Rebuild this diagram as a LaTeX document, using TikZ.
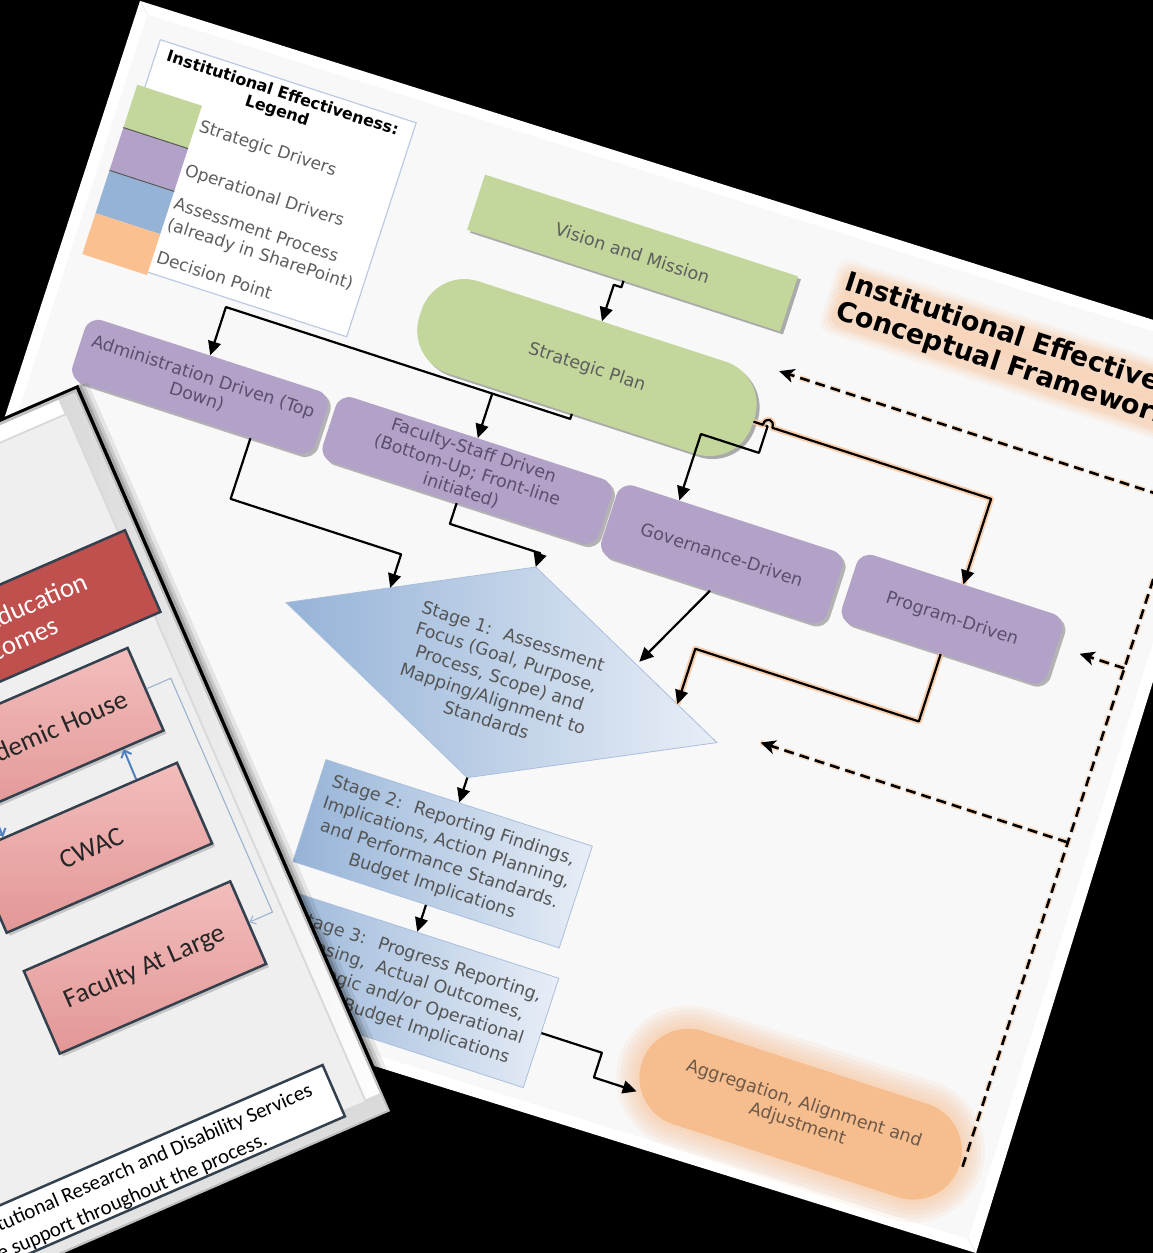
\documentclass[tikz,border=0pt]{standalone}
\usepackage{fontspec}
\setmainfont{DejaVu Sans}
\newfontfamily\carl{Carlito}
\usetikzlibrary{arrows.meta,shadows,calc}
\definecolor{purp}{HTML}{B3A2C7}
\definecolor{ptext}{HTML}{5C4E70}
\definecolor{grn}{HTML}{C3D69B}
\definecolor{gtext}{HTML}{5E5E5E}
\definecolor{sbone}{HTML}{95B3D7}
\definecolor{sbtwo}{HTML}{E8EEF7}
\definecolor{sbd}{HTML}{A9BFDD}
\definecolor{stext}{HTML}{555555}
\definecolor{org}{HTML}{F6BE8F}
\definecolor{otext}{HTML}{6E5848}
\definecolor{glow}{HTML}{F7C39A}
\definecolor{legb}{HTML}{BCCBE2}
\definecolor{lorange}{HTML}{FAC090}
\definecolor{lblue}{HTML}{95B3D7}
\definecolor{redbox}{HTML}{C0504D}
\definecolor{pinkt}{HTML}{F2BDBC}
\definecolor{pinkb}{HTML}{E29796}
\definecolor{slate}{HTML}{33414F}
\definecolor{arrblue}{HTML}{4F81BD}
\definecolor{brk}{HTML}{9DB3CF}
\definecolor{slidebg}{HTML}{F8F8F8}
\definecolor{lsbg}{HTML}{EFEFEF}
\newcommand{\fsz}[2]{\fontsize{#1}{#2}\selectfont}
\begin{document}
\begin{tikzpicture}[x=1pt,y=-1pt,
  pnode/.style={rounded corners=14pt, fill=purp, text=ptext, align=center, inner sep=0pt,
     font=\fsz{17.5}{21}, drop shadow={shadow xshift=3pt, shadow yshift=-3pt, opacity=.4, fill=black!70}},
  gnode/.style={fill=grn, text=gtext, align=center, inner sep=0pt, font=\fsz{17.5}{21},
     drop shadow={shadow xshift=3pt, shadow yshift=-3pt, opacity=.45, fill=black!70}},
  snode/.style={left color=sbone, right color=sbtwo, draw=sbd, line width=0.8pt, text=stext,
     align=center, inner sep=0pt, font=\fsz{17.5}{23}},
  legt/.style={anchor=west, text=gtext, font=\fsz{17}{20}, inner sep=0pt},
  ttl/.style={anchor=west, align=left, font=\bfseries\fsz{27}{30}, inner sep=0pt},
  conn/.style={line width=2.2pt, line join=round, -{Triangle[length=14pt,width=13pt]}},
  glowl/.style={line width=6pt, draw=glow, opacity=.8, line join=round},
  dconn/.style={line width=2.6pt, dash pattern=on 10pt off 6pt, -{Stealth[length=15pt,width=14pt,inset=4pt]}},
  dglow/.style={line width=5.5pt, draw=glow, opacity=.6, dash pattern=on 10pt off 6pt},
  rnode/.style={fill=redbox, draw=slate, line width=2.5pt, text=white, font=\carl\fsz{27}{29},
     align=center, inner sep=0pt},
  knode/.style={top color=pinkt, bottom color=pinkb, draw=slate, line width=2.5pt, text=black!85,
     font=\carl\fsz{27}{30}, align=center, inner sep=0pt,
     drop shadow={shadow xshift=3pt, shadow yshift=-3pt, opacity=.3, fill=black!60}},
  brkl/.style={draw=brk, line width=1.1pt, -{Straight Barb[length=5pt,width=9pt]}},
  barr/.style={draw=arrblue, line width=2pt, -{Straight Barb[length=6pt,width=11pt]}}
]
\useasboundingbox (0,0) rectangle (1153,1253);
\fill[black] (0,0) rectangle (1153,1253);

% ================= main slide =================
\begin{scope}[shift={(501,674)},rotate=-18,transform shape]
\fill[white] (-551.3,-528.6) -- (617.6,-539.3) -- (630.7,403.9) -- (-551.5,419) -- cycle;
\fill[slidebg] (-540,-518) -- (606,-528) -- (619,393) -- (-540,408) -- cycle;
\draw[gray!18, line width=0.6pt] (-551.3,-528.6) -- (-540,-518) (630.7,403.9) -- (619,393);

% legend
\draw[legb, line width=1.2pt, fill=white] (-520,-498) rectangle (-251,-273);
\fill[grn] (-528,-448) rectangle (-460,-403);
\fill[purp] (-528,-403) rectangle (-460,-358);
\fill[lblue] (-528,-358) rectangle (-460,-313);
\fill[lorange] (-528,-313) rectangle (-460,-270);
\draw[black!65, line width=1pt] (-528,-403) -- (-460,-403) (-528,-358) -- (-460,-358);
\node[font=\bfseries\fsz{16}{18}, align=center, inner sep=0pt] (legtitle) at (-387,-475) {Institutional Effectiveness:\\Legend};
\node[legt] (lg1) at (-456,-427) {Strategic Drivers};
\node[legt] (lg2) at (-456,-381) {Operational Drivers};
\node[legt] (lg3) at (-456,-347) {Assessment Process};
\node[legt] (lg4) at (-456,-324) {(already in SharePoint)};
\node[legt] (lg5) at (-456,-291) {Decision Point};

% title with soft glow
\foreach \g/\o in {9/.10,6/.14,3/.2,0/.25} {
  \fill[glow, opacity=\o, rounded corners=12pt] ({203-\g},{-493-\g}) rectangle ({612+\g},{-466+\g});
  \fill[glow, opacity=\o, rounded corners=12pt] ({203-\g},{-463-\g}) rectangle ({559+\g},{-434+\g});
}
\node[ttl] (title) at (207,-464) {Institutional Effectiveness\\Conceptual Framework};

% green
\node[gnode, minimum width=329pt, minimum height=58pt] (vis) at (-5,-441) {Vision and Mission};
\node[gnode, rounded corners=45pt, minimum width=350pt, minimum height=97pt] (sp) at (-13,-318) {Strategic Plan};

% purple
\node[pnode, minimum width=255pt, minimum height=66pt] (adm) at (-375,-180) {Administration Driven (Top\\Down)};
\node[pnode, minimum width=290pt, minimum height=68pt] (fac) at (-95,-183) {Faculty-Staff Driven\\(Bottom-Up; Front-line\\initiated)};
\node[pnode, minimum width=237pt, minimum height=76pt] (gov) at (173,-182) {Governance-Driven};
\node[pnode, minimum width=216pt, minimum height=73pt] (prog) at (412,-191.5) {Program-Driven};

% stage 1 diamond
\coordinate (s1t) at (0,-112.5);
\coordinate (s1r) at (226.5,-1.5);
\coordinate (s1b) at (0,109);
\coordinate (s1l) at (-226.5,-1.5);
\shadedraw[left color=sbone, right color=sbtwo, draw=sbd, line width=0.8pt] (s1l) -- (s1t) -- (s1r) -- (s1b) -- cycle;
\node[text=stext, align=center, font=\fsz{17.5}{22}, inner sep=0pt] (s1) at (0,4) {Stage 1:~ Assessment\\Focus (Goal, Purpose,\\Process, Scope) and\\Mapping/Alignment to\\Standards};

% stage 2, 3
\node[snode, minimum width=280pt, minimum height=107pt] (s2) at (0,189) {Stage 2:~ Reporting Findings,\\Implications, Action Planning,\\and Performance Standards.\\Budget Implications};
\node[snode, minimum width=280pt, minimum height=115pt] (s3) at (9,329) {Stage 3:~ Progress Reporting,\\Closing,~ Actual Outcomes,\\Strategic and/or Operational\\Goals, Budget Implications};

% aggregation (blurred)
\foreach \w in {46,38,30,22,14,7}
  \draw[org, opacity=.12, line width=\w pt, rounded corners=49pt] (254,277) rectangle (588,375);
\fill[org, rounded corners=49pt] (254,277) rectangle (588,375);
\node[minimum width=340pt, minimum height=104pt, inner sep=0pt, align=center, text=otext, font=\fsz{17.5}{21}] (agg) at (421,326) {Aggregation, Alignment and\\Adjustment};
\coordinate (aggin) at (258,355);

% connectors
\draw[conn] (vis.south) -- (-5,-405) -- (-13,-405) -- (sp.north);
\coordinate (j1) at (-95,-264);
\draw[conn] (sp.south) -- (-13,-264) -- (-375,-264) -- (adm.north);
\draw[conn] (j1) -- (fac.north);
\draw[conn] (sp.east) -- (177,-318) -- (177,-290) -- (116,-290) -- ($(gov.north west)!0.2595!(gov.north east)$);
\draw[glowl] (sp.east) -- (172,-318) .. controls (172,-327) and (182,-327) .. (182,-318) -- (412,-318) -- (prog.north);
\draw[conn] (sp.east) -- (172,-318) .. controls (172,-327) and (182,-327) .. (182,-318) -- (412,-318) -- (prog.north);
\draw[conn] ($(adm.south west)!0.75!(adm.south east)$) -- (-311.25,-83) -- (-132,-83) -- ($(s1l)!0.4172!(s1t)$);
\draw[conn] (fac.south) -- (-95,-127) -- (0,-127) -- (s1t);
\draw[conn, shorten >=4pt] (gov.south) -- ($(s1t)!0.556!(s1r)$);
\draw[glowl] (prog.south) -- (412,-84) -- (177,-84) -- ($(s1t)!0.7815!(s1r)$);
\draw[conn] (prog.south) -- (412,-84) -- (177,-84) -- ($(s1t)!0.7815!(s1r)$);
\draw[conn] (s1b) -- (s2.north);
\draw[conn] (s2.south) -- ($(s3.north west)!(s2.south)!(s3.north east)$);
\draw[conn] (s3.east) -- (213,329) -- (213,355) -- (aggin);

% dashed feedback
\coordinate (fbtop) at (171,-374);
\coordinate (fbs1) at (268,-15);
\coordinate (fbpr) at (544,-198);
\coordinate (fbk1) at (591,-15);
\coordinate (fbk2) at (591,-198);
\draw[dglow] (agg.east) -- (591,-374) -- (fbtop);
\draw[dglow] (fbk1) -- (fbs1);
\draw[dglow] (fbk2) -- (fbpr);
\draw[dconn] (agg.east) -- (591,-374) -- (fbtop);
\draw[dconn] (fbk1) -- (fbs1);
\draw[dconn] (fbk2) -- (fbpr);
\end{scope}

% ================= left slide =================
\begin{scope}[shift={(145,967.5)},rotate=23.5,transform shape]
\fill[black,opacity=.08] (-900,-559) rectangle (181,243);
\fill[black,opacity=.12] (-900,-560) rectangle (177,239);
\fill[black,opacity=.16] (-900,-561) rectangle (174,236);
\fill[black] (-900,-561) rectangle (171,233);
\fill[gray!50] (-897,-558) rectangle (167.5,229.5);
\fill[white] (-894,-555) rectangle (165,227);
\shade[left color=gray!30, right color=white] (147,-555) rectangle (165,227);
\shade[top color=gray!30, bottom color=white] (-894,209) rectangle (165,227);
\fill[gray!30] (-879,-540) rectangle (150,212);
\fill[lsbg] (-877,-538) rectangle (148,210);

\node[rnode, minimum width=312pt, minimum height=89pt] (geo) at (0,-364.5) {General Education\\Outcomes};
\node[knode, minimum width=224pt, minimum height=90pt] (ah) at (-0.5,-255) {Academic House};
\node[knode, minimum width=224pt, minimum height=88pt] (cw) at (-1,-131) {CWAC};
\node[knode, minimum width=225pt, minimum height=90pt] (fal) at (0,0) {Faculty At Large};

\draw[brkl] (ah.east) -- (139,-255) -- (139,0) -- (fal.east);
\draw[barr] ($(cw.north west)!0.8!(cw.north east)$) -- ($(ah.south west)!0.8!(ah.south east)$);
\draw[barr] ($(ah.south west)!0.16!(ah.south east)$) -- ($(cw.north west)!0.16!(cw.north east)$);

\node[draw=slate, line width=2.5pt, fill=white, minimum width=824pt, minimum height=56pt, inner sep=0pt] (tb) at (-288,188.25) {};
\node[anchor=east, font=\carl\fsz{21}{25}, inner sep=0pt] (tb1) at (104,179) {The Office of Institutional Research and Disability Services};
\node[anchor=east, font=\carl\fsz{21}{25}, inner sep=0pt] (tb2) at (43,206) {will provide support throughout the process.};
\end{scope}
\end{tikzpicture}
\end{document}
